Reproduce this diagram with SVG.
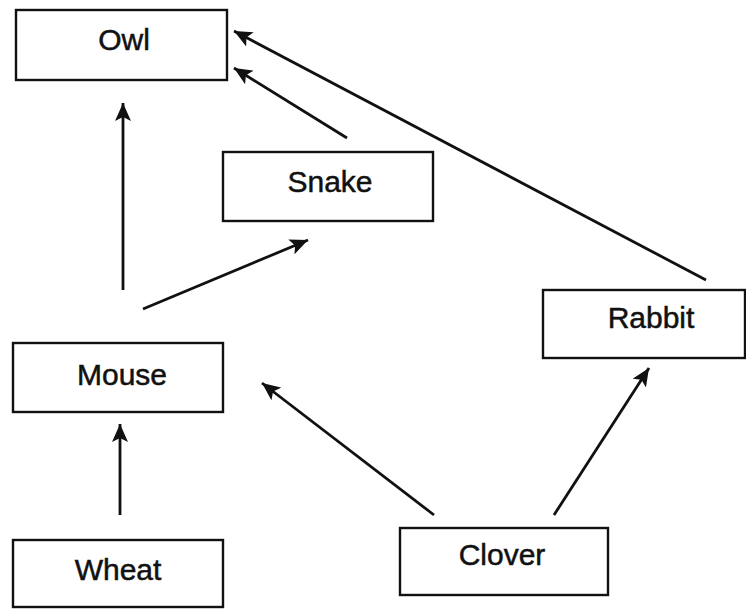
<svg xmlns="http://www.w3.org/2000/svg" width="746" height="610" viewBox="0 0 746 610">
  <style>
    .box { fill: #ffffff; stroke: #111111; stroke-width: 2.4; }
    .label { font-family: "Liberation Sans", Arial, sans-serif; font-size: 30px; fill: #111111; stroke: #111111; stroke-width: 0.5; text-anchor: middle; }
    .edge { stroke: #111111; stroke-width: 2.8; fill: none; marker-end: url(#head); }
  </style>
  <defs>
    <marker id="head" markerUnits="userSpaceOnUse" markerWidth="20" markerHeight="16" refX="18" refY="8" orient="auto">
      <path d="M0,0 L18,8 L0,16 L4,8 z" fill="#111111"/>
    </marker>
  </defs>
  <rect width="746" height="610" fill="#ffffff"/>

  <!-- feeding arrows: prey points to predator -->
  <g id="connectors">
    <line class="edge" x1="120" y1="515" x2="120" y2="424"/>
    <line class="edge" x1="123" y1="290" x2="123" y2="103"/>
    <line class="edge" x1="143" y1="309" x2="308" y2="240"/>
    <line class="edge" x1="347" y1="138" x2="234" y2="68"/>
    <line class="edge" x1="706" y1="280" x2="234" y2="31"/>
    <line class="edge" x1="434" y1="515" x2="262" y2="383"/>
    <line class="edge" x1="554" y1="515" x2="649" y2="368"/>
  </g>

  <g id="owl">
    <rect class="box" x="16" y="10" width="211" height="70"/>
    <text class="label" x="124" y="50">Owl</text>
  </g>
  <g id="snake">
    <rect class="box" x="223" y="152" width="210" height="69"/>
    <text class="label" x="330" y="192">Snake</text>
  </g>
  <g id="rabbit">
    <rect class="box" x="543" y="290" width="202" height="68"/>
    <text class="label" x="651" y="328">Rabbit</text>
  </g>
  <g id="mouse">
    <rect class="box" x="13" y="343" width="210" height="69"/>
    <text class="label" x="122" y="385">Mouse</text>
  </g>
  <g id="wheat">
    <rect class="box" x="13" y="540" width="210" height="67"/>
    <text class="label" x="118" y="580">Wheat</text>
  </g>
  <g id="clover">
    <rect class="box" x="400" y="528" width="208" height="67"/>
    <text class="label" x="502" y="565">Clover</text>
  </g>
</svg>
